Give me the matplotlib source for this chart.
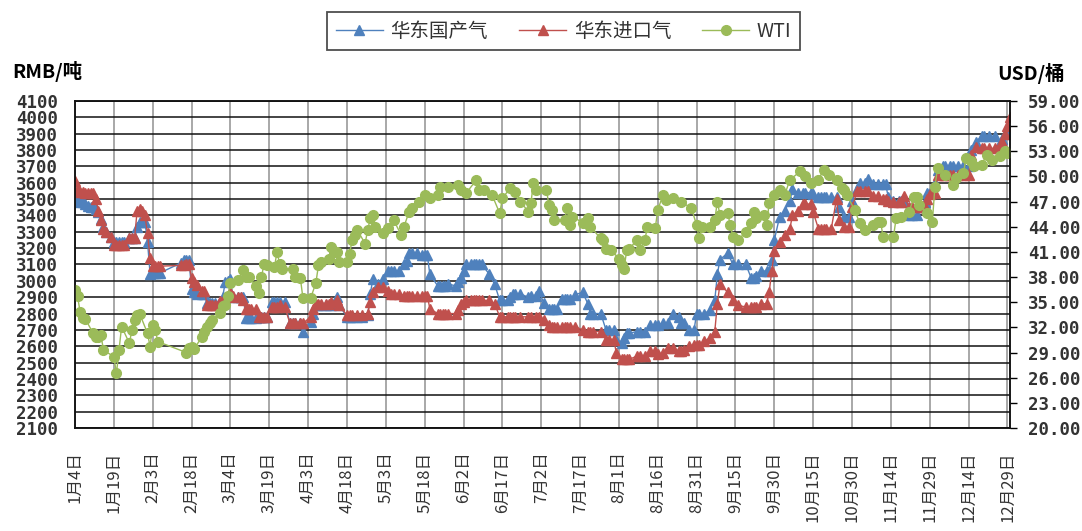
import matplotlib
matplotlib.use("Agg")
import matplotlib.pyplot as plt
import pandas as pd

plt.rcParams["font.family"] = ["Noto Sans CJK SC", "DejaVu Sans"]

# 华东 LNG 价格 (RMB/吨)
lng_dates = [
    "01-04", "01-05", "01-06", "01-07", "01-08", "01-09", "01-10", "01-11", "01-12", "01-13",
    "01-14", "01-15", "01-16", "01-18", "01-19", "01-20", "01-21", "01-22", "01-23", "01-25",
    "01-26", "01-27", "01-28", "01-29", "01-30", "01-31", "02-01", "02-02", "02-03", "02-04",
    "02-05", "02-06", "02-14", "02-15", "02-16", "02-17", "02-18", "02-19", "02-20", "02-22",
    "02-23", "02-24", "02-25", "02-26", "02-27", "02-29", "03-01", "03-02", "03-03", "03-04",
    "03-05", "03-07", "03-08", "03-09", "03-10", "03-11", "03-12", "03-14", "03-15", "03-16",
    "03-17", "03-18", "03-20", "03-21", "03-22", "03-23", "03-25", "03-27", "03-28", "03-29",
    "03-31", "04-01", "04-04", "04-05", "04-06", "04-07", "04-08", "04-10", "04-11", "04-12",
    "04-14", "04-15", "04-18", "04-19", "04-20", "04-22", "04-24", "04-26", "04-27", "04-28",
    "04-30", "05-02", "05-04", "05-05", "05-06", "05-08", "05-10", "05-11", "05-12", "05-13",
    "05-15", "05-17", "05-18", "05-19", "05-20", "05-23", "05-24", "05-25", "05-26", "05-27",
    "05-30", "05-31", "06-01", "06-02", "06-03", "06-05", "06-06", "06-07", "06-08", "06-09",
    "06-12", "06-14", "06-16", "06-17", "06-19", "06-20", "06-21", "06-22", "06-24", "06-27",
    "06-28", "06-30", "07-01", "07-03", "07-05", "07-06", "07-07", "07-08", "07-10", "07-11",
    "07-12", "07-13", "07-15", "07-18", "07-20", "07-21", "07-22", "07-25", "07-27", "07-28",
    "07-30", "07-31", "08-02", "08-03", "08-04", "08-05", "08-08", "08-09", "08-11", "08-13",
    "08-15", "08-16", "08-18", "08-20", "08-22", "08-24", "08-25", "08-26", "08-28", "08-30",
    "08-31", "09-01", "09-03", "09-05", "09-07", "09-08", "09-09", "09-12", "09-14", "09-16",
    "09-19", "09-21", "09-22", "09-23", "09-25", "09-27", "09-28", "09-29", "09-30", "10-02",
    "10-04", "10-06", "10-07", "10-09", "10-11", "10-12", "10-14", "10-15", "10-17", "10-18",
    "10-19", "10-20", "10-22", "10-24", "10-25", "10-27", "10-29", "10-30", "11-01", "11-02",
    "11-04", "11-05", "11-07", "11-09", "11-11", "11-12", "11-13", "11-15", "11-17", "11-18",
    "11-19", "11-21", "11-22", "11-24", "11-26", "11-27", "11-28", "11-29", "11-30", "12-01",
    "12-02", "12-04", "12-05", "12-07", "12-08", "12-10", "12-12", "12-14", "12-15", "12-17",
    "12-19", "12-20", "12-22", "12-24", "12-26", "12-27", "12-28", "12-29", "12-30",
]
domestic = [
    3510, 3490, 3480, 3480, 3470, 3460, 3450, 3450, 3440, 3420,
    3380, 3330, 3300, 3270, 3240, 3240, 3240, 3240, 3240, 3260,
    3260, 3260, 3330, 3360, 3360, 3360, 3240, 3040, 3050, 3050,
    3050, 3050, 3110, 3130, 3130, 3130, 2950, 2930, 2920, 2920,
    2920, 2865, 2865, 2865, 2865, 2870, 2900, 2990, 3000, 3010,
    2900, 2900, 2900, 2900, 2770, 2770, 2770, 2770, 2780, 2780,
    2780, 2780, 2870, 2870, 2870, 2870, 2870, 2740, 2740, 2740,
    2740, 2690, 2750, 2800, 2850, 2850, 2850, 2850, 2850, 2850,
    2900, 2850, 2780, 2780, 2780, 2780, 2780, 2790, 2920, 3010,
    2980, 3010, 3060, 3060, 3060, 3060, 3100, 3120, 3170, 3170,
    3170, 3160, 3160, 3160, 3040, 2970, 2970, 2970, 2970, 2980,
    2970, 2990, 3020, 3060, 3100, 3100, 3100, 3100, 3100, 3100,
    3040, 2980, 2880, 2880, 2880, 2900, 2920, 2920, 2920, 2900,
    2910, 2910, 2940, 2865, 2830, 2830, 2830, 2825, 2890, 2890,
    2890, 2890, 2915, 2930, 2860, 2800, 2800, 2800, 2700, 2700,
    2700, 2640, 2620, 2650, 2680, 2680, 2690, 2690, 2690, 2730,
    2730, 2730, 2740, 2740, 2800, 2780, 2740, 2740, 2700, 2700,
    2800, 2800, 2800, 2820, 2880, 3040, 3130, 3170, 3100, 3100,
    3100, 3020, 3020, 3030, 3060, 3060, 3060, 3130, 3250, 3390,
    3430, 3490, 3560, 3540, 3540, 3540, 3540, 3530, 3510, 3510,
    3510, 3510, 3510, 3510, 3450, 3390, 3390, 3490, 3560, 3600,
    3600, 3620, 3590, 3590, 3590, 3590, 3510, 3490, 3490, 3490,
    3490, 3400, 3400, 3400, 3450, 3480, 3540, 3540, 3550, 3600,
    3680, 3700, 3700, 3700, 3700, 3700, 3700, 3700, 3800, 3850,
    3885, 3885, 3885, 3885, 3840, 3870, 3900, 3910, 3910,
]
imported = [
    3610, 3560, 3545, 3545, 3540, 3535, 3535, 3535, 3500, 3430,
    3370, 3320, 3300, 3270, 3220, 3220, 3220, 3220, 3220, 3260,
    3260, 3260, 3430, 3440, 3430, 3400, 3290, 3140, 3090, 3090,
    3090, 3090, 3095, 3095, 3100, 3100, 3020, 2990, 2975, 2935,
    2935, 2855, 2855, 2855, 2855, 2875, 2875, 2880, 2900, 2930,
    2905, 2900, 2900, 2880, 2825, 2825, 2825, 2825, 2780, 2780,
    2780, 2780, 2840, 2840, 2840, 2850, 2840, 2740, 2740, 2740,
    2740, 2740, 2780, 2830, 2860, 2860, 2860, 2860, 2860, 2870,
    2880, 2850, 2790, 2790, 2790, 2790, 2790, 2800, 2870, 2930,
    2960, 2965, 2940, 2920, 2920, 2920, 2910, 2910, 2910, 2910,
    2910, 2910, 2910, 2910, 2830, 2800, 2800, 2800, 2800, 2800,
    2800, 2820, 2860, 2870, 2880, 2880, 2880, 2880, 2880, 2880,
    2880, 2860, 2780, 2780, 2780, 2780, 2780, 2780, 2780, 2780,
    2780, 2780, 2780, 2760, 2730, 2720, 2720, 2720, 2720, 2720,
    2720, 2720, 2720, 2700, 2690, 2690, 2690, 2690, 2640, 2640,
    2640, 2560, 2520, 2520, 2520, 2520, 2540, 2540, 2540, 2570,
    2570, 2550, 2560, 2590, 2590, 2570, 2570, 2580, 2600, 2610,
    2610, 2610, 2630, 2650, 2690, 2860, 2980, 2930, 2880, 2850,
    2840, 2840, 2840, 2840, 2860, 2860, 2930, 3060, 3180, 3240,
    3280, 3320, 3400, 3430, 3470, 3470, 3470, 3420, 3320, 3320,
    3320, 3320, 3320, 3500, 3370, 3330, 3330, 3450, 3550, 3550,
    3550, 3550, 3520, 3520, 3500, 3500, 3490, 3480, 3480, 3480,
    3520, 3450, 3450, 3450, 3450, 3450, 3500, 3530, 3540, 3540,
    3650, 3650, 3650, 3650, 3650, 3650, 3650, 3650, 3770, 3820,
    3810, 3810, 3810, 3810, 3830, 3850, 3900, 3950, 4000,
]

# WTI (USD/桶)
wti_dates = [
    "01-04", "01-05", "01-06", "01-07", "01-08", "01-11", "01-12", "01-13", "01-14", "01-15",
    "01-19", "01-20", "01-21", "01-22", "01-25", "01-26", "01-27", "01-28", "01-29", "02-01",
    "02-02", "02-03", "02-04", "02-05", "02-16", "02-17", "02-18", "02-19", "02-22", "02-23",
    "02-24", "02-25", "02-26", "02-29", "03-01", "03-02", "03-03", "03-04", "03-07", "03-09",
    "03-10", "03-11", "03-14", "03-15", "03-16", "03-17", "03-18", "03-21", "03-22", "03-23",
    "03-24", "03-28", "03-29", "03-31", "04-01", "04-04", "04-06", "04-07", "04-08", "04-11",
    "04-12", "04-13", "04-14", "04-15", "04-18", "04-19", "04-20", "04-21", "04-22", "04-25",
    "04-26", "04-27", "04-28", "04-29", "05-02", "05-04", "05-06", "05-09", "05-10", "05-12",
    "05-13", "05-16", "05-18", "05-20", "05-23", "05-24", "05-27", "05-31", "06-01", "06-03",
    "06-07", "06-08", "06-10", "06-13", "06-16", "06-17", "06-20", "06-22", "06-24", "06-27",
    "06-28", "06-29", "06-30", "07-04", "07-05", "07-06", "07-07", "07-11", "07-12", "07-13",
    "07-14", "07-18", "07-20", "07-21", "07-25", "07-26", "07-27", "07-29", "08-01", "08-02",
    "08-03", "08-04", "08-05", "08-08", "08-09", "08-11", "08-12", "08-15", "08-16", "08-18",
    "08-19", "08-22", "08-25", "08-29", "08-31", "09-01", "09-02", "09-05", "09-07", "09-08",
    "09-09", "09-12", "09-13", "09-14", "09-16", "09-19", "09-21", "09-22", "09-23", "09-26",
    "09-27", "09-28", "09-30", "10-02", "10-04", "10-06", "10-10", "10-12", "10-14", "10-17",
    "10-19", "10-21", "10-24", "10-26", "10-27", "10-28", "10-31", "11-02", "11-04", "11-07",
    "11-09", "11-10", "11-11", "11-15", "11-16", "11-18", "11-21", "11-23", "11-24", "11-25",
    "11-28", "11-30", "12-01", "12-02", "12-05", "12-08", "12-09", "12-12", "12-13", "12-15",
    "12-16", "12-19", "12-21", "12-23", "12-26", "12-28", "12-29",
]
wti = [
    36.5, 35.7, 33.8, 33.1, 33.0, 31.3, 30.9, 30.9, 31.1, 29.3,
    28.5, 26.5, 29.3, 32.1, 30.1, 31.7, 32.9, 33.5, 33.6, 31.3,
    29.7, 32.3, 31.7, 30.3, 29.0, 29.5, 29.7, 29.4, 30.9, 31.5,
    32.0, 32.5, 32.9, 33.7, 34.5, 34.7, 35.7, 37.3, 37.7, 38.8,
    38.0, 38.0, 36.9, 36.1, 38.0, 39.6, 39.4, 39.2, 41.0, 39.6,
    39.0, 39.0, 38.0, 37.9, 35.5, 35.5, 37.3, 39.4, 39.8, 40.2,
    41.6, 41.0, 41.0, 39.8, 39.8, 40.8, 42.4, 43.0, 43.6, 42.0,
    43.6, 45.0, 45.4, 44.0, 43.2, 43.8, 44.8, 43.0, 44.0, 45.8,
    46.2, 47.0, 47.8, 47.4, 47.8, 48.8, 48.8, 49.0, 48.4, 48.0,
    49.6, 48.4, 48.4, 47.8, 45.6, 47.4, 48.6, 48.2, 47.0, 45.8,
    46.8, 49.2, 48.4, 48.4, 46.6, 46.0, 44.8, 44.8, 46.2, 44.2,
    45.2, 44.5, 45.0, 44.0, 42.6, 42.4, 41.4, 41.2, 40.2, 39.4,
    39.0, 41.2, 41.4, 42.4, 41.2, 42.4, 44.0, 43.8, 46.0, 47.8,
    47.2, 47.4, 47.0, 46.2, 44.2, 42.6, 44.0, 44.0, 44.8, 47.0,
    45.4, 45.6, 44.2, 42.8, 42.4, 43.4, 44.4, 45.8, 45.0, 45.4,
    44.2, 46.8, 47.8, 48.4, 47.8, 49.6, 50.6, 50.0, 49.2, 49.6,
    50.8, 50.2, 49.6, 48.6, 48.4, 47.8, 46.0, 44.4, 43.6, 44.2,
    44.6, 44.6, 42.8, 42.8, 45.0, 45.2, 45.8, 47.6, 47.6, 46.6,
    45.6, 44.6, 48.8, 51.0, 50.2, 49.0, 49.8, 50.4, 52.2, 51.8,
    51.2, 51.4, 52.6, 52.0, 52.4, 53.0, 52.8,
]

lng_x = pd.to_datetime(["2016-" + d for d in lng_dates])
wti_x = pd.to_datetime(["2016-" + d for d in wti_dates])
tick_dates = pd.date_range("2016-01-04", "2016-12-29", freq="15D")
tick_labels = [f"{d.month}月{d.day}日" for d in tick_dates]

fig = plt.figure(figsize=(10.82, 5.31), dpi=100)
ax = fig.add_axes([0.0693, 0.194, 0.8642, 0.6158])
ax2 = ax.twinx()

l1, = ax.plot(lng_x, domestic, color="#4F81BD", marker="^", markersize=6.5,
              linewidth=1.0, label="华东国产气")
l2, = ax.plot(lng_x, imported, color="#C0504D", marker="^", markersize=6.5,
              linewidth=1.0, label="华东进口气")
l3, = ax2.plot(wti_x, wti, color="#9BBB59", marker="o", markersize=7,
               linewidth=1.0, label="WTI")

ax.set_xlim(pd.Timestamp("2016-01-04"), pd.Timestamp("2016-12-30"))
ax.set_ylim(2100, 4100)
ax.set_yticks(range(2100, 4101, 100))
ax2.set_ylim(20, 59)
ax2.set_yticks(range(20, 60, 3))
ax2.set_yticklabels([f"{v:.2f}" for v in range(20, 60, 3)])

ax.set_xticks(tick_dates)
ax.set_xticklabels(tick_labels, rotation=90, fontsize=12, color="#333333")

ax.set_axisbelow(True)
ax.grid(axis="y", color="#111111", linewidth=1.1)
ax.grid(axis="x", color="#999999", linewidth=1.2)

for a in (ax, ax2):
    for lab in a.get_yticklabels():
        lab.set_fontfamily("DejaVu Sans Mono")
        lab.set_fontweight("bold")
        lab.set_fontsize(12.5)
        lab.set_color("#333333")

ax.tick_params(axis="y", length=0, pad=12)
ax.tick_params(axis="x", length=0, pad=17)
ax2.tick_params(axis="y", length=5, width=1, direction="out", pad=8)

for a in (ax, ax2):
    for s in a.spines.values():
        s.set_color("#111111")
        s.set_linewidth(1.1)

fig.text(0.011, 0.866, "RMB/吨", fontsize=14, fontweight="bold", va="center", ha="left")
fig.text(0.922, 0.861, "USD/桶", fontsize=14, fontweight="bold", va="center", ha="left")

leg = fig.legend(handles=[l1, l2, l3], loc="center", bbox_to_anchor=(0.521, 0.9416),
                 ncol=3, fontsize=14, frameon=True, fancybox=False, edgecolor="#222222",
                 handlelength=2.4, columnspacing=1.6, borderpad=0.45, handletextpad=0.4)
leg.get_frame().set_linewidth(1.3)
for t in leg.get_texts():
    t.set_color("#333333")

fig.savefig("out.png", dpi=100)
plt.close(fig)
